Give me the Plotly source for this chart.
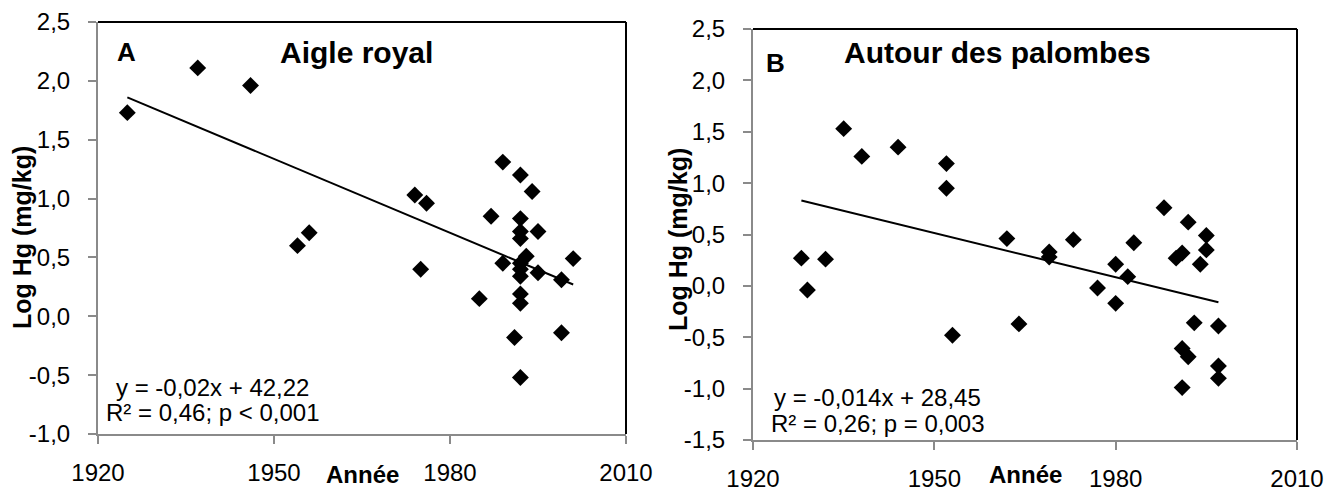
import plotly.graph_objects as go

# ---------------- Data ----------------
# Panel A: Aigle royal
years_a = [1925, 1937, 1946, 1954, 1956, 1974, 1975, 1976, 1985, 1987,
           1989, 1989, 1991, 1992, 1992, 1992, 1992, 1992, 1992, 1992,
           1992, 1992, 1992, 1993, 1994, 1995, 1995, 1999, 1999, 2001]
hg_a = [1.73, 2.11, 1.96, 0.60, 0.71, 1.03, 0.40, 0.96, 0.15, 0.85,
        1.31, 0.45, -0.18, 1.20, 0.83, 0.72, 0.66, 0.45, 0.40, 0.34,
        0.19, 0.11, -0.52, 0.51, 1.06, 0.72, 0.37, 0.31, -0.14, 0.49]
trend_years_a = [1925, 2001]
trend_hg_a = [1.86, 0.27]

# Panel B: Autour des palombes
years_b = [1928, 1929, 1932, 1935, 1938, 1944, 1952, 1952, 1953, 1962,
           1964, 1969, 1969, 1973, 1977, 1980, 1980, 1982, 1983, 1988,
           1990, 1991, 1991, 1991, 1992, 1992, 1993, 1994, 1995, 1995,
           1997, 1997, 1997]
hg_b = [0.27, -0.04, 0.26, 1.53, 1.26, 1.35, 1.19, 0.95, -0.48, 0.46,
        -0.37, 0.33, 0.28, 0.45, -0.02, 0.21, -0.17, 0.09, 0.42, 0.76,
        0.27, 0.32, -0.61, -0.99, 0.62, -0.69, -0.36, 0.21, 0.49, 0.35,
        -0.39, -0.78, -0.90]
trend_years_b = [1928, 1997]
trend_hg_b = [0.83, -0.16]

# Tick labels
x_tickvals = [1920, 1950, 1980, 2010]
x_ticktext = ["1920", "1950", "1980", "2010"]
y_tickvals_a = [-1.0, -0.5, 0.0, 0.5, 1.0, 1.5, 2.0, 2.5]
y_ticktext_a = ["-1,0", "-0,5", "0,0", "0,5", "1,0", "1,5", "2,0", "2,5"]
y_tickvals_b = [-1.5, -1.0, -0.5, 0.0, 0.5, 1.0, 1.5, 2.0, 2.5]
y_ticktext_b = ["-1,5", "-1,0", "-0,5", "0,0", "0,5", "1,0", "1,5", "2,0", "2,5"]

# ---------------- Figure ----------------
W, H = 1337, 489
FONT = "Arial, Liberation Sans, sans-serif"
GRAY = "#8a8a8a"

def px_x(v):
    return v / W

def px_y(v):
    return 1 - v / H

fig = go.Figure()
marker = dict(symbol="diamond", size=13, color="black", line=dict(width=0))

fig.add_trace(go.Scatter(x=years_a, y=hg_a, mode="markers", marker=marker,
                         xaxis="x", yaxis="y", hoverinfo="x+y"))
fig.add_trace(go.Scatter(x=trend_years_a, y=trend_hg_a, mode="lines",
                         line=dict(color="black", width=2),
                         xaxis="x", yaxis="y"))
fig.add_trace(go.Scatter(x=years_b, y=hg_b, mode="markers", marker=marker,
                         xaxis="x2", yaxis="y2", hoverinfo="x+y"))
fig.add_trace(go.Scatter(x=trend_years_b, y=trend_hg_b, mode="lines",
                         line=dict(color="black", width=2),
                         xaxis="x2", yaxis="y2"))

common_x = dict(range=[1920, 2010], tickvals=x_tickvals, ticktext=x_ticktext,
                showline=True, linecolor=GRAY, linewidth=2, ticks="outside",
                ticklen=8, tickwidth=2, tickcolor=GRAY, showgrid=False,
                zeroline=False, tickfont=dict(family=FONT, size=24, color="black"),
                ticklabelstandoff=8, fixedrange=True, automargin=False)
common_y = dict(showline=True, linecolor=GRAY, linewidth=2, ticks="outside",
                ticklen=8, tickwidth=2, tickcolor=GRAY, showgrid=False,
                zeroline=False, tickfont=dict(family=FONT, size=24, color="black"),
                ticklabelstandoff=13, fixedrange=True, automargin=False)

fig.update_layout(
    width=W, height=H,
    margin=dict(l=0, r=0, t=0, b=0, autoexpand=False),
    paper_bgcolor="white", plot_bgcolor="white",
    showlegend=False,
    font=dict(family=FONT, color="black"),
    xaxis=dict(domain=[px_x(98), px_x(626)], anchor="y", **common_x),
    yaxis=dict(domain=[px_y(434), px_y(22)], anchor="x", range=[-1.0, 2.5],
               tickvals=y_tickvals_a, ticktext=y_ticktext_a, **common_y),
    xaxis2=dict(domain=[px_x(753), px_x(1297)], anchor="y2", **common_x),
    yaxis2=dict(domain=[px_y(440), px_y(29)], anchor="x2", range=[-1.5, 2.5],
                tickvals=y_tickvals_b, ticktext=y_ticktext_b, **common_y),
)

# Black top / right frame lines
shapes = []
for xr, yr in [("x domain", "y domain"), ("x2 domain", "y2 domain")]:
    shapes.append(dict(type="line", xref=xr, yref=yr, x0=0, x1=1, y0=1, y1=1,
                       line=dict(color="black", width=2)))
    shapes.append(dict(type="line", xref=xr, yref=yr, x0=1, x1=1, y0=0, y1=1,
                       line=dict(color="black", width=2)))
fig.update_layout(shapes=shapes)

def ann(text, x, y, size, bold=False, angle=0):
    t = f"<b>{text}</b>" if bold else text
    fig.add_annotation(text=t, x=px_x(x), y=px_y(y), xref="paper", yref="paper",
                       xanchor="center", yanchor="middle", showarrow=False,
                       textangle=angle, font=dict(family=FONT, size=size, color="black"))

# Panel A texts
ann("A", 127, 52, 26, bold=True)
ann("Aigle royal", 356, 52, 30, bold=True)
ann("y = -0,02x + 42,22", 212, 387, 24)
ann("R² = 0,46; p < 0,001", 212, 412, 24)
ann("Log Hg (mg/kg)", 22, 238, 25, bold=True, angle=-90)
ann("Année", 363, 474, 24, bold=True)

# Panel B texts
ann("B", 775, 63, 26, bold=True)
ann("Autour des palombes", 997, 53, 30, bold=True)
ann("y = -0,014x + 28,45", 877, 397, 24)
ann("R² = 0,26; p = 0,003", 877, 423, 24)
ann("Log Hg (mg/kg)", 678, 239, 25, bold=True, angle=-90)
ann("Année", 1025, 474, 24, bold=True)

fig.write_html(
    "out.html",
    config={"displayModeBar": False},
    post_script="document.body.style.margin='0';document.body.style.padding='0';"
                "document.body.style.overflow='hidden';",
)
